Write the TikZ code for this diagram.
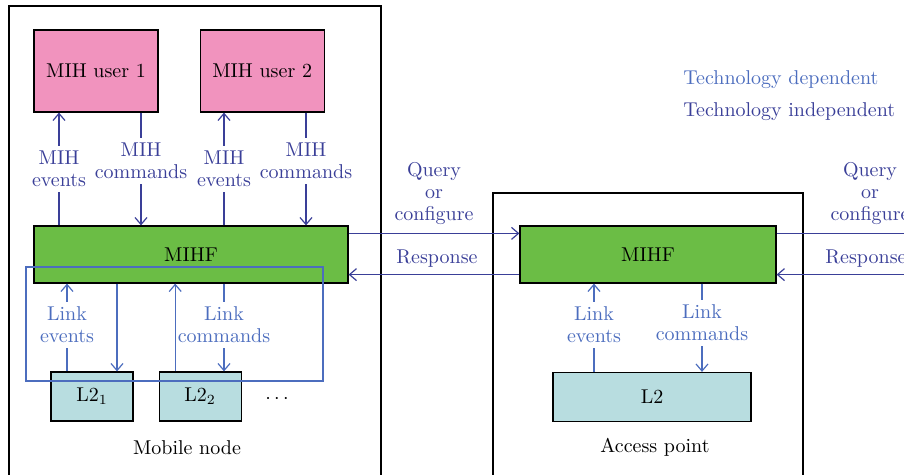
\documentclass[tikz,border=0pt]{standalone}
\usetikzlibrary{arrows.meta, positioning}
\definecolor{MIHPink}{HTML}{F193BE}
\definecolor{MIHGreen}{HTML}{6BBD45}
\definecolor{MIHTeal}{HTML}{B8DDE0}
\definecolor{IndepBlue}{HTML}{3A3F98}
\definecolor{DepBlue}{HTML}{4C6DBE}

\begin{document}
\begin{tikzpicture}[x = 0.5pt, y = -0.5pt, font = \fontsize{10}{11}\selectfont]%
    %
    \tikzstyle{box} = [rectangle, draw = black, line width = 0.6pt, text = black, inner sep = 0pt]%
    \tikzstyle{user} = [box, fill = MIHPink, minimum width = 62pt, minimum height = 41pt]%
    \tikzstyle{mihf} = [box, fill = MIHGreen, minimum height = 28.5pt]%
    \tikzstyle{layer} = [box, fill = MIHTeal, minimum height = 24.5pt]%
    \tikzstyle{indep} = [line width = 0.6pt, draw = IndepBlue]%
    \tikzstyle{dep} = [line width = 0.6pt, draw = DepBlue]%
    \tikzstyle{indeparrow} = [indep, -{Straight Barb[length = 3.5pt, width = 6pt]}]%
    \tikzstyle{deparrow} = [dep, -{Straight Barb[length = 3.5pt, width = 6pt]}]%
    \tikzstyle{indeplabel} = [text = IndepBlue, align = center, inner sep = 2.5pt]%
    \tikzstyle{deplabel} = [text = DepBlue, align = center, inner sep = 2.5pt]%
    %
    \useasboundingbox (0,0) rectangle (904,475);%
    \clip (0,0) rectangle (904,475);%
    %
    % mobile node
    \draw [line width = 0.6pt] (9,480) -- (9,6) -- (381,6) -- (381,480);%
    \node [user] (user-1) at (96,71) {MIH user 1};%
    \node [user, right = 20.5pt of user-1] (user-2) {MIH user 2};%
    \node [mihf, minimum width = 157pt] (mihf-mn) at (191,254.5) {MIHF};%
    \node [layer, minimum width = 41pt] (l2-1) at (92,396.5) {L2$_1$};%
    \node [layer, minimum width = 41pt, right = 12.5pt of l2-1] (l2-2) {L2$_2$};%
    \node (dots) at (277,399) {$\cdots$};%
    \node (mn-label) at (187,448) {Mobile node};%
    \draw [dep] (26,267) rectangle (323,381);%
    %
    % access point
    \draw [line width = 0.6pt] (493,480) -- (493,193) -- (803,193) -- (803,480);%
    \node [mihf, minimum width = 128pt] (mihf-ap) at (648,254.5) {MIHF};%
    \node [layer, minimum width = 99pt] (l2-ap) at (652,397) {L2};%
    \node (ap-label) at (655,447) {Access point};%
    %
    % MIH events and commands
    \node [indeplabel] (mih-ev-1) at (59,169) {MIH\\events};%
    \draw [indeparrow] (mih-ev-1) -- (mih-ev-1 |- user-1.south);%
    \draw [indep] (mih-ev-1 |- mihf-mn.north) -- (mih-ev-1);%
    \node [indeplabel] (mih-cmd-1) at (141,161) {MIH\\commands};%
    \draw [indep] (mih-cmd-1 |- user-1.south) -- (mih-cmd-1);%
    \draw [indeparrow] (mih-cmd-1) -- (mih-cmd-1 |- mihf-mn.north);%
    \node [indeplabel] (mih-ev-2) at (224,169) {MIH\\events};%
    \draw [indeparrow] (mih-ev-2) -- (mih-ev-2 |- user-2.south);%
    \draw [indep] (mih-ev-2 |- mihf-mn.north) -- (mih-ev-2);%
    \node [indeplabel] (mih-cmd-2) at (306,161) {MIH\\commands};%
    \draw [indep] (mih-cmd-2 |- user-2.south) -- (mih-cmd-2);%
    \draw [indeparrow] (mih-cmd-2) -- (mih-cmd-2 |- mihf-mn.north);%
    %
    % link events and commands
    \node [deplabel] (link-ev-1) at (67,325) {Link\\events};%
    \draw [deparrow] (link-ev-1) -- (link-ev-1 |- mihf-mn.south);%
    \draw [dep] (link-ev-1 |- l2-1.north) -- (link-ev-1);%
    \draw [deparrow] ([xshift = 12.5pt]l2-1.north |- mihf-mn.south) -- ([xshift = 12.5pt]l2-1.north);%
    \draw [deparrow] ([xshift = -12.5pt]l2-2.north) -- ([xshift = -12.5pt]l2-2.north |- mihf-mn.south);%
    \node [deplabel] (link-cmd-1) at (224,325) {Link\\commands};%
    \draw [dep] (link-cmd-1 |- mihf-mn.south) -- (link-cmd-1);%
    \draw [deparrow] (link-cmd-1) -- (link-cmd-1 |- l2-2.north);%
    \node [deplabel] (link-ev-ap) at (594,325) {Link\\events};%
    \draw [deparrow] (link-ev-ap) -- (link-ev-ap |- mihf-ap.south);%
    \draw [dep] (link-ev-ap |- l2-ap.north) -- (link-ev-ap);%
    \node [deplabel] (link-cmd-ap) at (702,323) {Link\\commands};%
    \draw [dep] (link-cmd-ap |- mihf-ap.south) -- (link-cmd-ap);%
    \draw [deparrow] (link-cmd-ap) -- (link-cmd-ap |- l2-ap.north);%
    %
    % query and response
    \node [indeplabel] (query-mn) at (434,194) {Query\\or\\configure};%
    \draw [indeparrow] ([yshift = -4pt]mihf-mn.north east) -- ([yshift = -4pt]mihf-ap.north west);%
    \node [indeplabel] (resp-mn) at (437,259) {Response};%
    \draw [indeparrow] ([yshift = 4.5pt]mihf-ap.south west) -- ([yshift = 4.5pt]mihf-mn.south east);%
    \coordinate [right = 70pt of mihf-ap.east] (edge-r);%
    \node [indeplabel] (query-ap) at (870,194) {Query\\or\\configure};%
    \draw [indep] ([yshift = -4pt]mihf-ap.north east) -- ([yshift = -4pt]mihf-ap.north east -| edge-r);%
    \node [indeplabel] (resp-ap) at (866,259) {Response};%
    \draw [indeparrow] ([yshift = 4.5pt]mihf-ap.south east -| edge-r) -- ([yshift = 4.5pt]mihf-ap.south east);%
    %
    % legend
    \node [deplabel, anchor = west] (legend-dep) at (678,80) {Technology dependent};%
    \node [indeplabel, anchor = west] (legend-indep) at (678,112) {Technology independent};%
    %
\end{tikzpicture}
\end{document}
